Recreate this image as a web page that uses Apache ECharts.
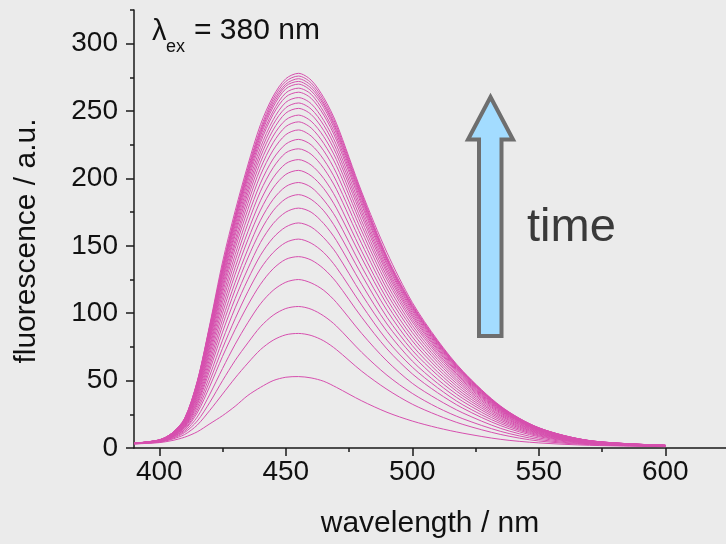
<!DOCTYPE html>
<html>
<head>
<meta charset="utf-8">
<script src="https://cdn.jsdelivr.net/npm/echarts@6/dist/echarts.min.js"></script>
<style>
  html, body { margin: 0; padding: 0; background: #ebebeb; }
  #chart { width: 726px; height: 544px; }
</style>
</head>
<body>
<div id="chart"></div>
<script>
  // wavelength grid (nm) shared by all spectra
  const wavelengths = [390, 400, 405, 410, 415, 420, 425, 430, 435, 440, 445, 450, 455, 460, 465, 470, 480, 490, 500, 510, 520, 535, 550, 570, 600];

  // spectra, lowest (earliest) first
  const curves = [
    [3.0, 4.0, 5.5, 8.0, 12, 18, 24, 31, 39, 45, 50, 52.5, 53, 52, 49.5, 45, 35, 26.5, 20, 15, 11, 6.4, 3.8, 2.0, 1.0],
    [3.1, 4.3, 6.5, 10, 17, 28, 40, 52, 63, 73, 80, 84, 85, 83.5, 79.5, 73, 57, 43.5, 32.5, 24.3, 17.5, 10, 5.2, 2.5, 1.1],
    [3.1, 4.5, 7, 11.5, 20, 34, 50, 65, 78, 90, 98.5, 103.5, 105, 103, 98, 90.5, 71, 54, 40.5, 30, 21.7, 12.3, 6.3, 2.8, 1.2],
    [3.2, 4.6, 7.5, 12.5, 23, 40, 59, 77, 93, 107, 117, 123, 125, 122.5, 117, 108, 85, 64.5, 48, 36, 26, 14.5, 7.4, 3.1, 1.3],
    [3.2, 4.8, 8, 13.5, 26, 46, 68, 88, 106, 121.5, 133, 140, 142, 139.5, 133, 123, 97, 73.5, 55, 41, 29.5, 16.5, 8.4, 3.4, 1.4],
    [3.3, 4.9, 8.2, 14, 28, 50, 74, 96, 116, 133, 145, 152.5, 155, 152, 145, 134, 106, 80, 60, 44.7, 32, 18, 9.1, 3.6, 1.4],
    [3.3, 5, 8.5, 15, 30, 54, 80, 104, 125, 143, 156, 164, 167, 164, 156, 144.5, 114, 86.5, 64.5, 48, 34.5, 19.3, 9.7, 3.8, 1.5],
    [3.3, 5.1, 8.7, 15.5, 32, 58, 86, 111, 133, 152.5, 166.5, 175, 178, 175, 166.5, 154, 121.5, 92, 69, 51, 36.7, 20.5, 10.3, 4.0, 1.5],
    [3.4, 5.2, 9, 16, 33.5, 61, 91, 117.5, 141, 161, 176, 185, 188, 184.5, 176, 162.5, 128.5, 97, 72.5, 54, 38.7, 21.6, 10.8, 4.2, 1.6],
    [3.4, 5.3, 9.2, 16.5, 35, 64, 95.5, 123, 147.5, 169, 184.5, 194, 197, 193.5, 184, 170.5, 134.5, 102, 76, 56.5, 40.5, 22.6, 11.2, 4.3, 1.6],
    [3.4, 5.4, 9.4, 17, 36.5, 67, 100, 129, 154.5, 176.5, 193, 203, 206, 202, 192.5, 178, 141, 106.5, 79.5, 59, 42.3, 23.6, 11.7, 4.5, 1.7],
    [3.4, 5.4, 9.6, 17.5, 38, 70, 104, 134, 160.5, 183.5, 200.5, 211, 214, 210, 200, 185, 146, 110.5, 82.5, 61.3, 44, 24.4, 12.1, 4.6, 1.7],
    [3.4, 5.5, 9.8, 18, 39.5, 72.5, 108, 139, 166.5, 190.5, 208, 219, 222, 218, 207.5, 192, 151.5, 114.5, 85.7, 63.6, 45.6, 25.3, 12.5, 4.7, 1.8],
    [3.4, 5.5, 10, 18.5, 40.5, 75, 111.5, 143.5, 172, 196.5, 214.5, 225.5, 229, 225, 214, 198, 156.5, 118, 88.5, 65.6, 47, 26, 12.9, 4.8, 1.8],
    [3.4, 5.6, 10.1, 19, 42, 77, 115, 148, 177, 202.5, 221, 232.5, 236, 231.5, 220.5, 204, 161, 121.5, 91, 67.6, 48.4, 26.7, 13.2, 4.9, 1.8],
    [3.5, 5.6, 10.2, 19.3, 43, 79.5, 118, 151.5, 181.5, 207.5, 226.5, 238.5, 242, 237.5, 226, 209.5, 165, 124.7, 93.5, 69.4, 49.6, 27.3, 13.5, 5.0, 1.9],
    [3.5, 5.7, 10.3, 19.6, 44, 81, 120.5, 154.5, 185.5, 212, 231.5, 243.5, 247, 242.5, 231, 214, 168.5, 127.3, 95.4, 70.8, 50.6, 27.8, 13.7, 5.0, 1.9],
    [3.5, 5.7, 10.4, 20, 45, 83, 123, 158, 189, 216, 236, 248.5, 252, 247.5, 235.5, 218, 172, 129.8, 97.3, 72.3, 51.6, 28.3, 13.9, 5.1, 1.9],
    [3.5, 5.8, 10.5, 20.2, 45.5, 84, 125, 160.5, 192, 219.5, 240, 252.5, 256, 251.5, 239.5, 221.5, 174.8, 131.8, 98.8, 73.4, 52.4, 28.7, 14.1, 5.2, 1.9],
    [3.5, 5.8, 10.6, 20.5, 46.5, 85.5, 127, 163, 195, 223, 243.5, 256.5, 260, 255.5, 243, 225, 177.5, 133.8, 100.3, 74.5, 53.2, 29.1, 14.2, 5.2, 1.9],
    [3.5, 5.9, 10.7, 20.8, 47, 87, 129, 165.5, 198, 226.5, 247.5, 260.5, 264, 259.5, 247, 228.5, 180.3, 135.9, 101.8, 75.6, 54, 29.5, 14.4, 5.3, 2.0],
    [3.5, 5.9, 10.8, 21, 47.5, 88, 130.5, 167.5, 200.5, 229, 250, 263.5, 267, 262.5, 249.5, 231, 182.3, 137.4, 103, 76.5, 54.6, 29.8, 14.6, 5.3, 2.0],
    [3.5, 5.9, 10.8, 21.2, 48, 89, 132, 169.5, 202.5, 231.5, 253, 266.5, 270, 265, 252.5, 233.5, 184.3, 139, 104.2, 77.4, 55.2, 30.1, 14.7, 5.4, 2.0],
    [3.5, 6, 10.9, 21.4, 48.5, 89.5, 133, 170.5, 204, 233.5, 255, 268.5, 272, 267, 254.5, 235.5, 185.7, 140, 105, 78, 55.6, 30.3, 14.8, 5.4, 2.0],
    [3.5, 6, 10.9, 21.6, 48.8, 90.5, 134, 172, 206, 235, 257, 270, 274, 269, 256, 237, 187.1, 141, 105.8, 78.6, 56, 30.5, 14.9, 5.5, 2.0],
    [3.5, 6, 11, 21.8, 49.2, 91, 135, 173, 207.5, 237, 259, 272, 276, 271, 258, 239, 188.5, 142, 106.6, 79.2, 56.5, 30.7, 15, 5.5, 2.0],
    [3.6, 6.1, 11, 22, 49.5, 92, 138, 176, 210, 240, 261, 274, 278, 273, 260, 241, 190, 145, 108, 80, 57, 31, 15, 5.5, 2.0]
  ];

  const xMajorTicks = [400, 450, 500, 550, 600];
  const xMinorTicks = [425, 475, 525, 575];
  const yMajorTicks = [0, 50, 100, 150, 200, 250, 300];
  const yMinorTicks = [25, 75, 125, 175, 225, 275, 325];

  const lineColor = '#d64fae';
  const axisColor = '#1a1a1a';
  const font = 'Liberation Sans, Arial, sans-serif';

  const series = curves.map(function (c) {
    return {
      type: 'line',
      xAxisIndex: 0,
      yAxisIndex: 0,
      data: wavelengths.map(function (w, i) { return [w, c[i]]; }),
      showSymbol: false,
      smooth: 0.3,
      lineStyle: { width: 1, color: lineColor },
      silent: true
    };
  });

  const chart = echarts.init(document.getElementById('chart'));
  chart.setOption({
    backgroundColor: '#ebebeb',
    animation: false,
    grid: { left: 134, right: 0, top: 10, bottom: 95 },
    xAxis: [
      {
        type: 'value', min: 390, max: 624,
        name: 'wavelength / nm', nameLocation: 'middle', nameGap: 61,
        nameTextStyle: { fontFamily: font, fontSize: 30, color: '#111' },
        axisLine: { lineStyle: { color: axisColor, width: 1.5 } },
        axisTick: { customValues: xMajorTicks, length: 8, lineStyle: { color: axisColor, width: 1.5 } },
        axisLabel: { customValues: xMajorTicks, margin: 10, fontFamily: font, fontSize: 28, color: '#111' },
        splitLine: { show: false }
      },
      {
        type: 'value', min: 390, max: 624, position: 'bottom',
        axisLine: { show: false },
        axisTick: { customValues: xMinorTicks, length: 4, lineStyle: { color: axisColor, width: 1.5 } },
        axisLabel: { show: false },
        splitLine: { show: false }
      }
    ],
    yAxis: [
      {
        type: 'value', min: 0, max: 325,
        name: 'fluorescence / a.u.', nameLocation: 'middle', nameGap: 92, nameRotate: 90,
        nameTextStyle: { fontFamily: font, fontSize: 30, color: '#111', padding: [0, 24, 0, 0] },
        axisLine: { show: true, lineStyle: { color: axisColor, width: 1.5 } },
        axisTick: { show: true, customValues: yMajorTicks, length: 8, lineStyle: { color: axisColor, width: 1.5 } },
        axisLabel: { customValues: yMajorTicks, margin: 16, fontFamily: font, fontSize: 28, color: '#111' },
        splitLine: { show: false }
      },
      {
        type: 'value', min: 0, max: 325, position: 'left',
        axisLine: { show: false },
        axisTick: { show: true, customValues: yMinorTicks, length: 4, lineStyle: { color: axisColor, width: 1.5 } },
        axisLabel: { show: false },
        splitLine: { show: false }
      }
    ],
    series: series,
    graphic: [
      { type: 'text', left: 152, top: 17, style: { text: 'λ', font: '29px ' + font, fill: '#111' } },
      { type: 'text', left: 166, top: 38, style: { text: 'ex', font: '18px ' + font, fill: '#111' } },
      { type: 'text', left: 194, top: 16, style: { text: '= 380 nm', font: '30px ' + font, fill: '#111' } },
      {
        type: 'polygon',
        shape: { points: [[490.5, 97], [513, 139.5], [501.5, 139.5], [501.5, 336], [479, 336], [479, 139.5], [468, 139.5]] },
        style: { fill: '#a3dcff', stroke: '#6e6e6e', lineWidth: 4, lineJoin: 'miter' }
      },
      { type: 'text', left: 527, top: 205, style: { text: 'time', font: '47px ' + font, fill: '#3a3a3a' } }
    ]
  });
</script>
</body>
</html>
